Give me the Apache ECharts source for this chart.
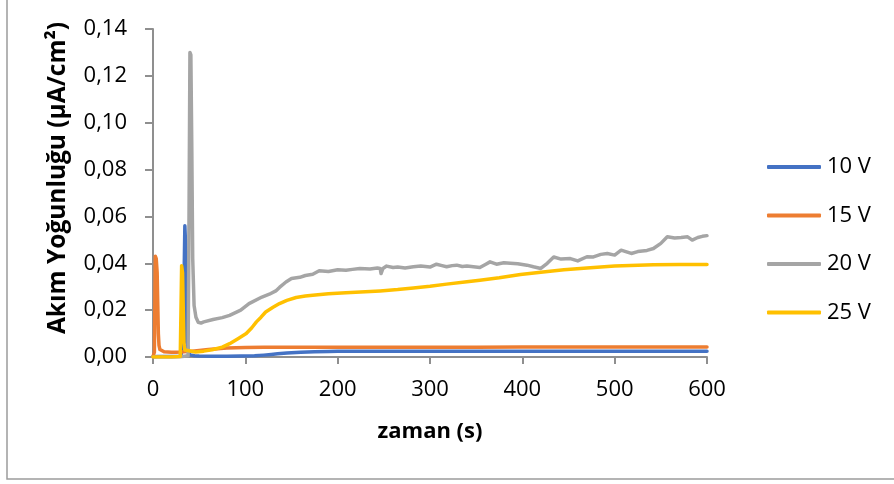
<!DOCTYPE html>
<html>
<head>
<meta charset="utf-8">
<script src="https://cdn.jsdelivr.net/npm/echarts@6/dist/echarts.min.js"></script>
<style>
  html, body { margin: 0; padding: 0; background: #fff; }
  #chart { width: 894px; height: 484px; }
</style>
</head>
<body>
<div id="chart"></div>
<script>
// Current density vs. time for four anodizing voltages
const seriesNames = ['10 V', '15 V', '20 V', '25 V'];
const seriesColors = ['#4472C4', '#ED7D31', '#A5A5A5', '#FFC000'];
const xTicks = [0, 100, 200, 300, 400, 500, 600];
const yTicks = [0, 0.02, 0.04, 0.06, 0.08, 0.10, 0.12, 0.14];

// 10 V
const t10 = [0, 5, 10, 20, 30, 33.2, 33.9, 34.5, 35.1, 35.7, 36.3, 37.2, 38.5, 40, 45, 50, 65, 80, 95, 110, 120, 128, 135, 145, 160, 175, 190, 200, 220, 250, 300, 350, 400, 450, 500, 550, 600];
const v10 = [0.0001, 0.0002, 0.0002, 0.0002, 0.0003, 0.006, 0.040, 0.056, 0.050, 0.030, 0.012, 0.005, 0.002, 0.0009, 0.0005, 0.0004, 0.0003, 0.0003, 0.0004, 0.0005, 0.0008, 0.0011, 0.0014, 0.0017, 0.0020, 0.0022, 0.0024, 0.0025, 0.0025, 0.0025, 0.0025, 0.0025, 0.0025, 0.0025, 0.0025, 0.0025, 0.0025];

// 15 V
const t15 = [0, 1.5, 2.5, 3.5, 4.5, 5.2, 5.8, 6.5, 7.5, 9, 12, 16, 20, 25, 30, 40, 50, 60, 70, 80, 90, 100, 120, 150, 200, 250, 300, 350, 400, 450, 500, 550, 600];
const v15 = [0.0002, 0.002, 0.043, 0.042, 0.036, 0.022, 0.010, 0.005, 0.0032, 0.0025, 0.0022, 0.0021, 0.0020, 0.0020, 0.0021, 0.0024, 0.0028, 0.0032, 0.0035, 0.0038, 0.0040, 0.0041, 0.0042, 0.0042, 0.0042, 0.0042, 0.0042, 0.0042, 0.0043, 0.0043, 0.0043, 0.0043, 0.0043];

// 20 V
const t20 = [0, 10, 20, 30, 38, 39, 40, 41, 42, 43, 44.5, 46.5, 49, 52, 55, 65, 75, 83, 95, 104, 118, 126, 133, 137, 144, 150, 159, 165, 173, 180, 190, 200, 209, 216, 224, 235, 243, 246, 247, 249, 253, 260, 265, 273, 282, 290, 300, 307, 313, 318, 324, 329, 335, 340, 347, 354, 360, 365, 372, 380, 387, 395, 405, 412, 420, 427, 434, 442, 452, 460, 470, 477, 485, 492, 500, 507, 512, 518, 525, 535, 542, 550, 557, 565, 572, 579, 584, 590, 595, 600];
const v20 = [0, 0, 0, 0.0001, 0.0005, 0.060, 0.130, 0.129, 0.090, 0.042, 0.022, 0.017, 0.0148, 0.0145, 0.0150, 0.0160, 0.0168, 0.0178, 0.0200, 0.0228, 0.0256, 0.0268, 0.0282, 0.0297, 0.0320, 0.0335, 0.0340, 0.0348, 0.0353, 0.0368, 0.0365, 0.0372, 0.0370, 0.0374, 0.0378, 0.0376, 0.0380, 0.0378, 0.0356, 0.0378, 0.0388, 0.0382, 0.0384, 0.0380, 0.0385, 0.0388, 0.0384, 0.0396, 0.0390, 0.0385, 0.0390, 0.0392, 0.0386, 0.0388, 0.0385, 0.0382, 0.0395, 0.0406, 0.0396, 0.0402, 0.0400, 0.0398, 0.0392, 0.0385, 0.0378, 0.0400, 0.0427, 0.0418, 0.0420, 0.0410, 0.0428, 0.0427, 0.0438, 0.0442, 0.0435, 0.0456, 0.0450, 0.0442, 0.0450, 0.0455, 0.0463, 0.0485, 0.0513, 0.0508, 0.0510, 0.0513, 0.0499, 0.0510, 0.0515, 0.0518];

// 25 V
const t25 = [0, 10, 20, 29.5, 30.3, 31, 32, 32.8, 33.5, 34.5, 36, 46, 55, 64, 75, 83, 92, 101, 107, 112, 117, 122, 130, 137, 145, 155, 165, 173, 190, 209, 230, 246, 265, 282, 300, 318, 340, 354, 375, 398, 420, 445, 470, 500, 542, 570, 600];
const v25 = [0, 0, 0, 0.0002, 0.020, 0.039, 0.036, 0.020, 0.006, 0.003, 0.0022, 0.0021, 0.0025, 0.0031, 0.0042, 0.0057, 0.0078, 0.0100, 0.0125, 0.0150, 0.0170, 0.0192, 0.0212, 0.0228, 0.0242, 0.0254, 0.0260, 0.0264, 0.0270, 0.0274, 0.0278, 0.0282, 0.0288, 0.0295, 0.0302, 0.0311, 0.0321, 0.0328, 0.0338, 0.0352, 0.0362, 0.0372, 0.0380, 0.0388, 0.0394, 0.0395, 0.0395];

const times = [t10, t15, t20, t25];
const values = [v10, v15, v20, v25];

const FONT = '"Open Sans", "Liberation Sans", sans-serif';
const AXIS_GREY = '#8f8f8f';

function pairs(ts, vs) {
  return ts.map((t, i) => [t, vs[i]]);
}

const chart = echarts.init(document.getElementById('chart'), null, { renderer: 'canvas' });

chart.setOption({
  animation: false,
  backgroundColor: '#ffffff',
  grid: { left: 153, right: 187, top: 29, bottom: 127, containLabel: false },
  xAxis: {
    type: 'value',
    min: xTicks[0],
    max: xTicks[xTicks.length - 1],
    interval: xTicks[1] - xTicks[0],
    axisLine: { show: true, onZero: false, lineStyle: { color: AXIS_GREY, width: 2 } },
    axisTick: { show: true, inside: false, length: 7, lineStyle: { color: AXIS_GREY, width: 2 } },
    axisLabel: { color: '#000', fontFamily: FONT, fontSize: 22, margin: 22 },
    splitLine: { show: false }
  },
  yAxis: {
    type: 'value',
    min: yTicks[0],
    max: yTicks[yTicks.length - 1],
    interval: yTicks[1] - yTicks[0],
    axisLine: { show: true, lineStyle: { color: AXIS_GREY, width: 2 } },
    axisTick: { show: true, inside: false, length: 8, lineStyle: { color: AXIS_GREY, width: 2 } },
    axisLabel: {
      color: '#000', fontFamily: FONT, fontSize: 22, margin: 26,
      formatter: v => v.toFixed(2).replace('.', ',')
    },
    splitLine: { show: false }
  },
  legend: {
    orient: 'vertical',
    left: 767,
    top: 155,
    padding: 0,
    icon: 'roundRect',
    itemWidth: 54,
    itemHeight: 4,
    itemGap: 24.5,
    textStyle: { color: '#000', fontFamily: FONT, fontSize: 22, lineHeight: 24, padding: [0, 0, 0, 1] },
    data: seriesNames
  },
  graphic: [
    {
      type: 'rect',
      silent: true,
      shape: { x: 7, y: -10, width: 900, height: 489 },
      style: { fill: 'none', stroke: '#9c9c9c', lineWidth: 1.5 }
    },
    {
      type: 'text',
      x: 430, y: 432,
      style: {
        text: 'zaman (s)', fill: '#000', font: 'bold 22px ' + FONT,
        textAlign: 'center', textVerticalAlign: 'middle'
      }
    },
    {
      type: 'text',
      x: 58, y: 178,
      rotation: Math.PI / 2,
      style: {
        text: 'Akım Yoğunluğu (µA/cm²)', fill: '#000', font: 'bold 24.5px ' + FONT,
        textAlign: 'center', textVerticalAlign: 'middle'
      }
    }
  ],
  series: seriesNames.map((name, i) => ({
    name: name,
    type: 'line',
    data: pairs(times[i], values[i]),
    showSymbol: false,
    symbol: 'none',
    color: seriesColors[i],
    lineStyle: { color: seriesColors[i], width: 3.5, join: 'round', cap: 'round' },
    z: 2 + i
  }))
});
</script>
</body>
</html>
